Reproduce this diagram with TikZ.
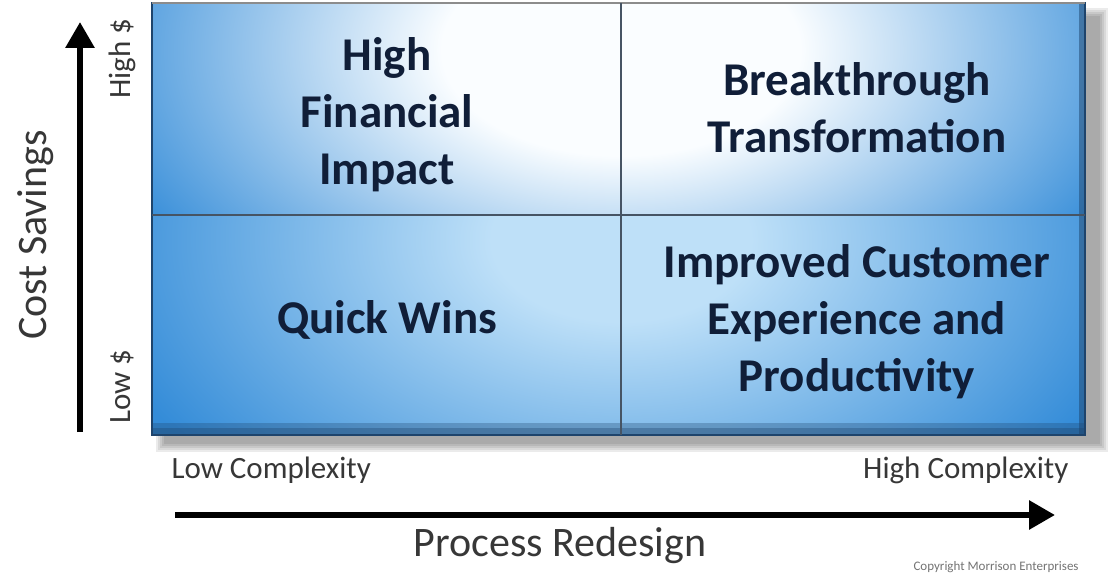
\documentclass[tikz,border=0pt]{standalone}
\usepackage{fontspec}
\setmainfont{Carlito}
\usetikzlibrary{arrows.meta}

\definecolor{quadblue}{RGB}{52,140,216}
\definecolor{quadlight}{RGB}{250,253,255}
\definecolor{quadmid}{RGB}{190,224,248}
\definecolor{quadedge}{RGB}{30,68,108}
\definecolor{quadline}{RGB}{70,84,100}
\definecolor{quadtext}{RGB}{16,30,56}
\definecolor{axistext}{RGB}{55,55,55}

\pgfdeclareradialshading{topglow}{\pgfpoint{0bp}{0bp}}{color(0bp)=(quadlight); color(8bp)=(quadlight); color(25bp)=(quadblue); color(50bp)=(quadblue)}
\pgfdeclareradialshading{lowglow}{\pgfpoint{0bp}{0bp}}{color(0bp)=(quadmid); color(6bp)=(quadmid); color(25bp)=(quadblue); color(50bp)=(quadblue)}

\begin{document}
\begin{tikzpicture}[x=1pt,y=-1pt]
				\tikzstyle{quadlbl}=[font=\bfseries\fontsize{47}{57}\selectfont,text=quadtext,align=center]
				\tikzstyle{axislbl}=[font=\fontsize{42}{44}\selectfont,text=axistext]
				\tikzstyle{endlbl}=[font=\fontsize{31}{33}\selectfont,text=axistext]
				\tikzstyle{axisarrow}=[line width=6,-{Triangle[length=26,width=28]}]

				\useasboundingbox (0,0) rectangle (1114,577);

				% blurred shadow
				\foreach \s in {0,2,4,6,8}
					\fill[black,opacity=0.08] (156+\s,8+\s) rectangle (1108-\s,452-\s);

				\coordinate (nw) at (152,3);
				\coordinate (se) at (1085,435);

				\begin{scope}
					\clip (nw) rectangle (se);
					\fill[quadblue] (nw) rectangle (se);
					\shade[shading=topglow] (621,50) ellipse (560 and 330);
					\begin{scope}
						\clip (152,215) rectangle (se);
						\fill[quadblue] (152,215) rectangle (se);
						\shade[shading=lowglow] (621,240) ellipse (540 and 340);
					\end{scope}
					% darker bevel
					\fill[quadedge,opacity=0.55] (152,428) rectangle (se);
					\fill[quadedge,opacity=0.3] (152,423) rectangle (1085,428);
					\fill[quadedge,opacity=0.5] (1079,3) rectangle (se);
				\end{scope}
				\draw[quadedge,line width=2] (nw) rectangle (se);
				\draw[black!45,line width=1.5] (nw) -- (1085,3);
				\draw[quadline,line width=1.5] (621,3) -- (621,435);
				\draw[quadline,line width=1.5] (152,215) -- (1085,215);

				\node[quadlbl] (financial) at (387,115) {High\\Financial\\Impact};
				\node[quadlbl] (breakthrough) at (857,108) {Breakthrough\\Transformation};
				\node[quadlbl] (quickwins) at (387,320) {Quick Wins};
				\node[quadlbl] (customer) at (857,322) {Improved Customer\\Experience and\\Productivity};

				% axes
				\coordinate (ybot) at (80,432);
				\coordinate (ytop) at (80,22);
				\coordinate (xleft) at (175,515);
				\coordinate (xright) at (1055,515);
				\draw[axisarrow] (ybot) -- (ytop);
				\draw[axisarrow] (xleft) -- (xright);

				\node[axislbl,rotate=90] (costsavings) at (36,235) {Cost Savings};
				\node[axislbl] (redesign) at (560,546) {Process Redesign};
				\node[endlbl,rotate=90,anchor=east] (highcost) at (122,15) {High \$};
				\node[endlbl,rotate=90,anchor=west] (lowcost) at (122,427) {Low \$};
				\node[endlbl,anchor=west] (lowcplx) at (168,470) {Low Complexity};
				\node[endlbl,anchor=east] (highcplx) at (1072,470) {High Complexity};

				\node[font=\fontsize{13}{14}\selectfont,text=black!55,anchor=west] (copyr) at (910,567) {Copyright Morrison Enterprises};
\end{tikzpicture}
\end{document}
